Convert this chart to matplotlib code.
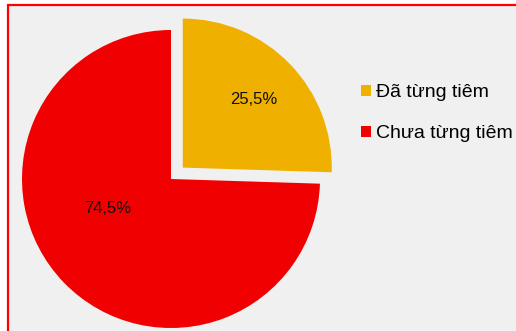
import matplotlib
matplotlib.use('Agg')
import matplotlib.pyplot as plt
from matplotlib.patches import Rectangle
import numpy as np

plt.rcParams['font.family'] = ['Liberation Sans', 'DejaVu Sans']

# data
labels = ['Đã từng tiêm', 'Chưa từng tiêm']
values = [25.5, 74.5]
pct_text = ['25,5%', '74,5%']
colors = ['#f0b000', '#f00000']

W, H = 516, 331
fig = plt.figure(figsize=(W / 100, H / 100), dpi=100, facecolor='white')

# grey panel with red frame (right and bottom edges run off the picture)
fig.patches.append(Rectangle((8 / W, -0.1), 1.2, (H - 5) / H + 0.1,
                             transform=fig.transFigure, facecolor='#f0f0f0',
                             edgecolor='#ff0000', linewidth=1.6, zorder=-1))

# pie axes: centre at (171, 179) px, radius 149 px
cx, cy, R = 171, 179, 149
half = R * 1.2
ax = fig.add_axes([(cx - half) / W, (H - cy - half) / H, 2 * half / W, 2 * half / H])
wedges, _ = ax.pie(values, colors=colors, startangle=90, counterclock=False,
                   explode=[0.11, 0], wedgeprops=dict(linewidth=0))
ax.set_xlim(-1.2, 1.2)
ax.set_ylim(-1.2, 1.2)
ax.axis('off')

# percentage labels
label_pos = [(0.66, 0.0), (0.47, -19.0)]  # (radius, angle tweak in degrees)
for w, txt, (r, dth) in zip(wedges, pct_text, label_pos):
    th = np.deg2rad((w.theta1 + w.theta2) / 2 + dth)
    x0, y0 = w.center
    ax.text(x0 + r * np.cos(th), y0 + r * np.sin(th), txt,
            ha='center', va='center', fontsize=12, color='#111111')

fig.legend(wedges, labels, loc='upper left',
           bbox_to_anchor=(361 / W, 1 - 84 / H), frameon=False,
           fontsize=14, handlelength=0.5, handleheight=0.5,
           handletextpad=0.25, labelspacing=1.25, borderpad=0,
           borderaxespad=0)

fig.savefig('out.png', dpi=100, facecolor='white')
